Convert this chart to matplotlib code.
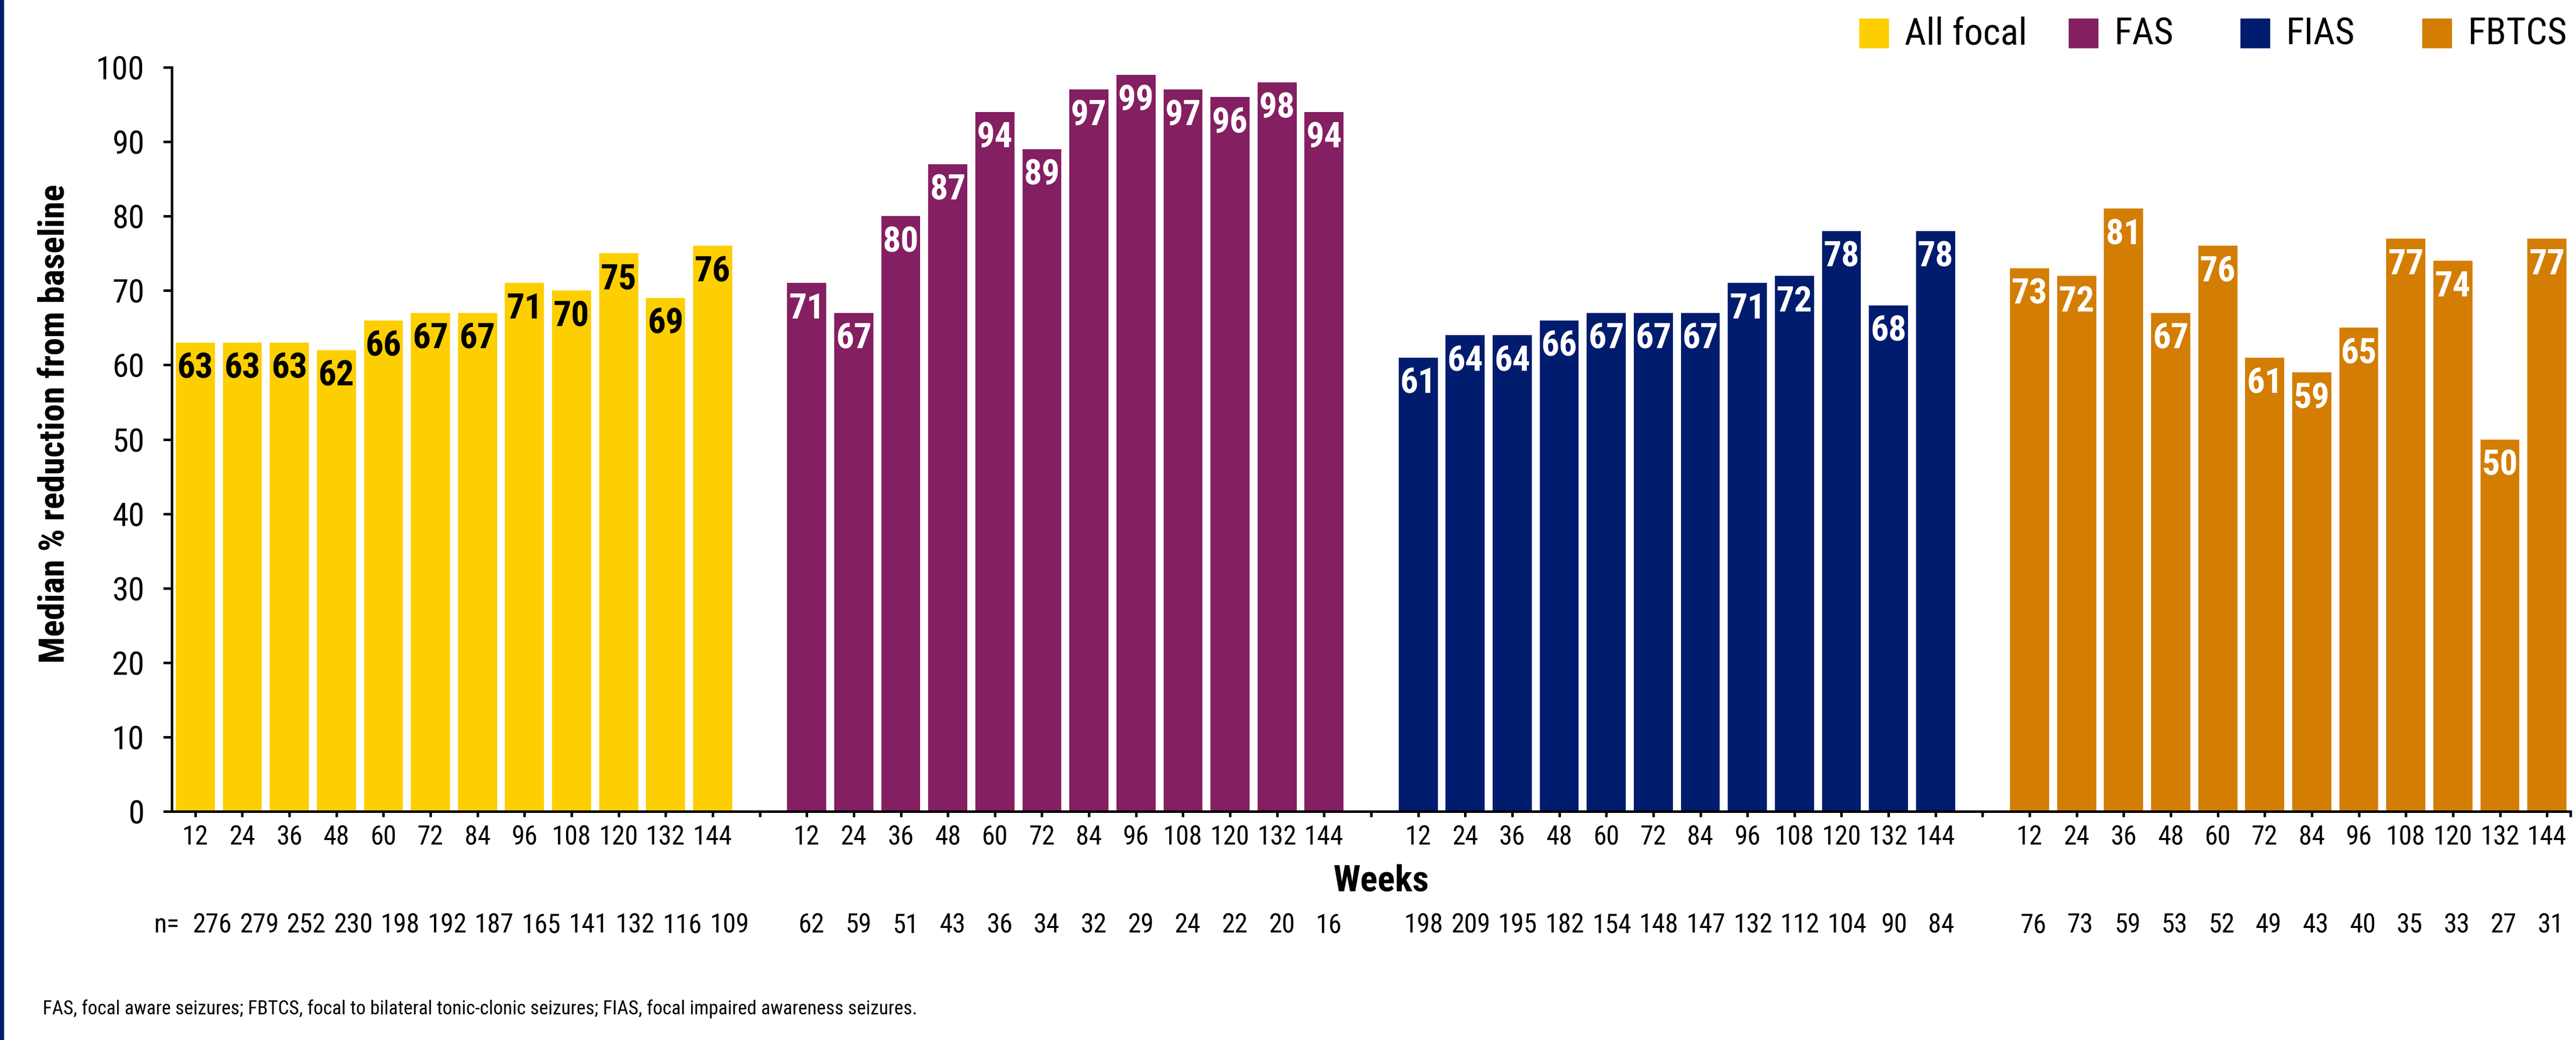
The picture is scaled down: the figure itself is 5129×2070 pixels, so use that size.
import numpy as np
import matplotlib.pyplot as plt
from matplotlib import transforms, font_manager

# weeks on the x axis, repeated for every seizure type
weeks = [12, 24, 36, 48, 60, 72, 84, 96, 108, 120, 132, 144]
groups = ['All focal', 'FAS', 'FIAS', 'FBTCS']

# median % reduction from baseline
all_focal = [63, 63, 63, 62, 66, 67, 67, 71, 70, 75, 69, 76]
fas = [71, 67, 80, 87, 94, 89, 97, 99, 97, 96, 98, 94]
fias = [61, 64, 64, 66, 67, 67, 67, 71, 72, 78, 68, 78]
fbtcs = [73, 72, 81, 67, 76, 61, 59, 65, 77, 74, 50, 77]

# number of patients at each time point
n_all_focal = [276, 279, 252, 230, 198, 192, 187, 165, 141, 132, 116, 109]
n_fas = [62, 59, 51, 43, 36, 34, 32, 29, 24, 22, 20, 16]
n_fias = [198, 209, 195, 182, 154, 148, 147, 132, 112, 104, 90, 84]
n_fbtcs = [76, 73, 59, 53, 52, 49, 43, 40, 35, 33, 27, 31]

colors = ['#FDCF00', '#841F62', '#001C6E', '#D37E02']
value_colors = ['black', 'white', 'white', 'white']
n_shift = [0.36, 0.1, 0.12, 0.08]
legend_x = [3702, 4119, 4461, 4823]  # left edge of each legend square, px

footnote = ('FAS, focal aware seizures; FBTCS, focal to bilateral tonic-clonic '
            'seizures; FIAS, focal impaired awareness seizures.')

W, H = 5129, 2070


def pick_font():
    # the original uses a condensed Helvetica; take a narrow face if there is one
    names = {f.name for f in font_manager.fontManager.ttflist}
    for name in ['Liberation Sans Narrow', 'Roboto Condensed', 'Open Sans Condensed']:
        if name in names:
            return name, 1.0
    return 'Liberation Sans', 0.85


def main():
    family, k = pick_font()
    plt.rcParams['font.family'] = [family, 'DejaVu Sans']

    fig = plt.figure(figsize=(W / 100, H / 100), dpi=100)
    ax = fig.add_axes([342 / W, 455 / H, 4776 / W, 1481 / H])

    series = [all_focal, fas, fias, fbtcs]
    counts = [n_all_focal, n_fas, n_fias, n_fbtcs]
    step = len(weeks) + 1

    # n row sits under the axis, x in data units, y in figure units
    trans_n = transforms.blended_transform_factory(ax.transData, fig.transFigure)

    tick_pos = []
    tick_lab = []
    for g, (vals, ns) in enumerate(zip(series, counts)):
        x = np.arange(len(weeks)) + g * step
        ax.bar(x, vals, width=0.83, color=colors[g], label=groups[g])
        for xi, v in zip(x, vals):
            ax.annotate(str(v), (xi, v), xytext=(0, -37), textcoords='offset points',
                        ha='center', va='center', fontsize=51 * k, fontweight='bold',
                        color=value_colors[g])
        for xi, n in zip(x, ns):
            ax.text(xi + n_shift[g], 1 - 1842 / H, str(n), transform=trans_n,
                    ha='center', va='center', fontsize=38 * k)
        tick_pos += list(x)
        tick_lab += [str(w) for w in weeks]
        if g < len(groups) - 1:
            tick_pos.append(x[-1] + 1)
            tick_lab.append('')

    ax.set_xticks(tick_pos)
    ax.set_xticklabels(tick_lab)
    ax.set_xticks([len(groups) * step - 1.5], minor=True)
    ax.set_xlim(-0.5, len(groups) * step - 1.5)
    ax.set_ylim(0, 100)
    ax.set_yticks(range(0, 101, 10))

    for s in ['top', 'right']:
        ax.spines[s].set_visible(False)
    for s in ['left', 'bottom']:
        ax.spines[s].set_linewidth(3.6)

    ax.tick_params(axis='x', which='both', length=8, width=3.6, pad=11, labelsize=38 * k)
    ax.tick_params(axis='y', length=12, width=3.6, pad=27, labelsize=47 * k)

    fig.text(2750 / W, 1 - 1754 / H, 'Weeks', ha='center', va='center',
             fontsize=52 * k, fontweight='bold')
    fig.text(108 / W, 1 - 843 / H, 'Median % reduction from baseline', rotation=90,
             ha='center', va='center', fontsize=50.5 * k, fontweight='bold')
    fig.text(357 / W, 1 - 1842 / H, 'n=', ha='right', va='center', fontsize=38 * k)
    fig.text(85 / W, 1 - 2008 / H, footnote, ha='left', va='center', fontsize=27.8 * k)

    # legend: square swatch + label, laid out like the slide
    sq = 58
    for g, name in enumerate(groups):
        x0 = legend_x[g]
        fig.add_artist(plt.Rectangle((x0 / W, 1 - (37 + sq) / H), sq / W, sq / H,
                                     transform=fig.transFigure, color=colors[g]))
        fig.text((x0 + sq + 32) / W, 1 - 68 / H, name, ha='left', va='center',
                 fontsize=54 * k)

    # blue strip on the left edge of the slide
    fig.add_artist(plt.Rectangle((0, 0), 7 / W, 1, transform=fig.transFigure,
                                 color='#001C6E', zorder=10))

    fig.savefig('out.png', dpi=100)


if __name__ == '__main__':
    main()
